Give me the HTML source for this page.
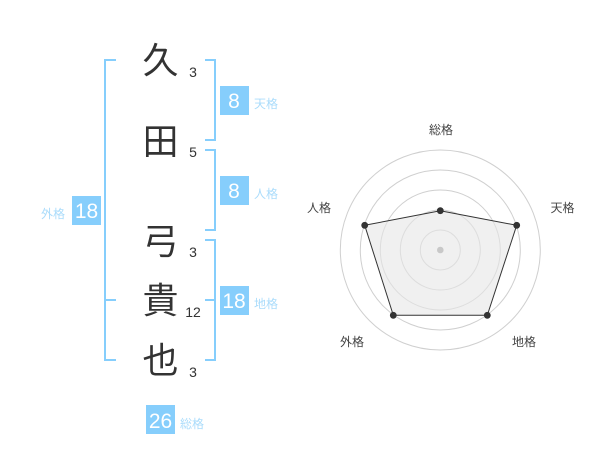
<!DOCTYPE html>
<html><head><meta charset="utf-8"><style>
html,body{margin:0;padding:0;background:#fff}
svg{display:block}
text{font-family:"Liberation Sans","Noto Sans CJK JP",sans-serif}
.k{font-size:36px;fill:#333;text-anchor:middle}
.n{font-size:14px;fill:#333;text-anchor:middle}
.b{font-size:21px;fill:#fff;text-anchor:middle}
.l{font-size:12px;fill:#aadcfb}
.r{font-size:12px;fill:#444;text-anchor:middle}
</style></head><body>
<svg width="600" height="470" viewBox="0 0 600 470" xmlns="http://www.w3.org/2000/svg">
<g fill="none" stroke="#86cefc" stroke-width="2">
<path d="M116 60H105V360H116M105 300H116"/>
<path d="M205 60H215V140H205"/>
<path d="M205 150H215V230H205"/>
<path d="M205 240H215V360H205M205 300H215"/>
</g>
<g fill="#86cefc">
<rect x="220" y="86" width="29" height="29"/>
<rect x="220" y="176" width="29" height="29"/>
<rect x="72" y="196" width="29" height="29"/>
<rect x="220" y="286" width="29" height="29"/>
<rect x="146" y="405" width="29" height="29"/>
</g>
<text class="b" x="234" y="108">8</text>
<text class="b" x="234" y="198">8</text>
<text class="b" x="86.500" y="218">18</text>
<text class="b" x="234" y="308">18</text>
<text class="b" x="160.500" y="428">26</text>
<text class="l" x="254" y="108">天格</text>
<text class="l" x="254" y="198">人格</text>
<text class="l" x="41" y="218">外格</text>
<text class="l" x="254" y="308">地格</text>
<text class="l" x="180" y="428">総格</text>
<text class="k" x="160.500" y="73">久</text>
<text class="k" x="160.500" y="154">田</text>
<text class="k" x="160.500" y="254">弓</text>
<text class="k" x="160.500" y="313">貴</text>
<text class="k" x="160.500" y="373">也</text>
<text class="n" x="193" y="77">3</text>
<text class="n" x="193" y="157">5</text>
<text class="n" x="193" y="257">3</text>
<text class="n" x="193" y="317">12</text>
<text class="n" x="193" y="377">3</text>
<g fill="none" stroke="#cfcfcf" stroke-width="1">
<circle cx="440.300" cy="250" r="20"/>
<circle cx="440.300" cy="250" r="40"/>
<circle cx="440.300" cy="250" r="60"/>
<circle cx="440.300" cy="250" r="80"/>
<circle cx="440.300" cy="250" r="100"/>
</g>
<polygon points="440.300,210.700 516.700,225.300 487.300,315.300 393.300,315.300 364.700,225.300" fill="#e6e6e6" fill-opacity=".6" stroke="#333" stroke-width="1"/>
<circle cx="440.300" cy="250" r="3.300" fill="#c8c8c8"/>
<g fill="#333">
<circle cx="440.300" cy="210.700" r="3.400"/>
<circle cx="516.700" cy="225.300" r="3.400"/>
<circle cx="487.300" cy="315.300" r="3.400"/>
<circle cx="393.300" cy="315.300" r="3.400"/>
<circle cx="364.700" cy="225.300" r="3.400"/>
</g>
<text class="r" x="441" y="134">総格</text>
<text class="r" x="562.500" y="212">天格</text>
<text class="r" x="524" y="346">地格</text>
<text class="r" x="352" y="346">外格</text>
<text class="r" x="319" y="212">人格</text>
</svg>
</body></html>
